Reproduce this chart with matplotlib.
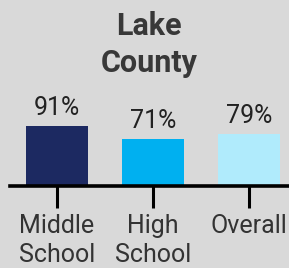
import matplotlib.pyplot as plt

categories = ["Middle\nSchool", "High\nSchool", "Overall"]
values = [91, 71, 79]
value_labels = ["91%", "71%", "79%"]
colors = ["#1c2961", "#00b0f0", "#b0ebfc"]

bg = "#d9d9d9"
plt.rcParams["font.family"] = ["Roboto", "DejaVu Sans"]

fig = plt.figure(figsize=(2.89, 2.68), dpi=100, facecolor=bg)
ax = fig.add_axes([10 / 289, (268 - 186) / 268, 279 / 289, 66 / 268])
ax.set_facecolor(bg)

x = range(len(categories))
bars = ax.bar(x, values, width=0.65, color=colors)
for b, lab in zip(bars, value_labels):
    ax.text(b.get_x() + b.get_width() / 2, b.get_height() + 17, lab,
            ha="center", va="baseline", fontsize=18, color="#222222", clip_on=False)

ax.set_xlim(-0.49, 2.417)
ax.set_ylim(0, 100)
ax.set_yticks([])
for s in ["top", "right", "left"]:
    ax.spines[s].set_visible(False)
ax.spines["bottom"].set_linewidth(2.6)
ax.spines["bottom"].set_color("black")
ax.set_xticks(list(x))
ax.set_xticklabels(categories, fontsize=18, color="#333333", va="top", linespacing=1.25)
ax.tick_params(axis="x", length=16, width=2.2, color="black", pad=4)

fig.text(149 / 289, 1 - 35 / 268, "Lake", ha="center", va="baseline",
         fontsize=22, fontweight="bold", color="#383838")
fig.text(149 / 289, 1 - 72 / 268, "County", ha="center", va="baseline",
         fontsize=22, fontweight="bold", color="#383838")

fig.savefig("out.png", dpi=100, facecolor=bg)
